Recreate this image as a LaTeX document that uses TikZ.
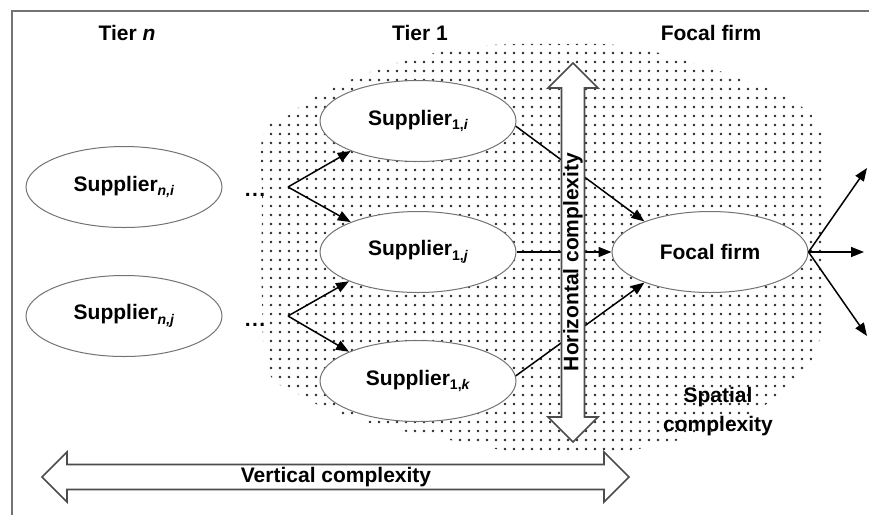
\documentclass[tikz,border=0pt]{standalone}
\usepackage{fontspec}
\setmainfont{Liberation Sans}
\usetikzlibrary{arrows.meta,shapes.geometric}
% lowered, smaller index text after a name
\newcommand{\lowsub}[1]{\raisebox{-4.5pt}{\fontsize{14}{14}\selectfont #1}}

\begin{document}
\begin{tikzpicture}[x=1pt,y=-1pt,
  lbl/.style={font=\fontsize{21}{25}\selectfont\bfseries},
  firm/.style={ellipse, draw=black!55, line width=1pt, fill=white,
    minimum width=196pt, minimum height=81pt, inner sep=0pt, lbl},
  link/.style={line width=1.5pt, -{Triangle[length=13pt,width=10pt]}},
  blockarrow/.style={draw=black!70, line width=1.6pt, fill=white,
    line join=miter},
  frameline/.style={draw=black!55, line width=1.5pt}]

\useasboundingbox (0,0) rectangle (869,515);

% outer frame (top and left edges)
\draw[frameline] (869,11) -- (12,11) -- (12,515);

% dotted area of spatial complexity
\begin{scope}
  \clip plot[smooth cycle, tension=0.7] coordinates {
    (263,135) (285,118) (315,97) (355,78) (400,62) (445,51) (490,45)
    (560,44) (625,46) (690,62) (750,82) (795,102) (822,135) (825,200)
    (824,300) (818,345) (800,375) (775,398) (730,425) (670,442)
    (600,454) (520,452) (450,440) (390,428) (335,412) (295,392)
    (268,370) (262,300) (262,200)};
  \foreach \i in {0,...,63}
    \foreach \j in {0,...,46}
      \fill[black!85] ({262+9*\i},{44+9*\j}) circle (1.35pt);
\end{scope}

% column headings
\node[lbl] (hn) at (127,33) {Tier \textit{n}};
\node[lbl] (h1) at (420,33) {Tier 1};
\node[lbl] (hf) at (711,33) {Focal firm};

% firms
\node[firm] (sni) at (124,187) {Supplier\lowsub{\textit{n,i}}};
\node[firm] (snj) at (124,316) {Supplier\lowsub{\textit{n,j}}};
\node[firm] (s1i) at (418,121) {Supplier\lowsub{1,\textit{i}}};
\node[firm] (s1j) at (418,252) {Supplier\lowsub{1,\textit{j}}};
\node[firm] (s1k) at (418,381) {Supplier\lowsub{1,\textit{k}}};
\node[firm] (focal) at (710,252) {Focal firm};

% ellipsis between the tiers
\node[lbl, inner sep=0pt] (dots1) at (255,195) {.\kern1.5pt.\kern1.5pt.};
\node[lbl, inner sep=0pt] (dots2) at (255,325) {.\kern1.5pt.\kern1.5pt.};

% branch points and free ends
\coordinate (b1) at (288,187);
\coordinate (b2) at (288,316);
\coordinate (o1) at (867,168);
\coordinate (o2) at (864,252);
\coordinate (o3) at (867,336);

% material flows
\draw[link] (b1) -- (s1i.204);
\draw[link] (b1) -- (s1j.156);
\draw[link] (b2) -- (s1j.203);
\draw[link] (b2) -- (s1k.157);
\draw[link] (s1i.-3) -- (focal.155);
\draw[link] (s1j.east) -- (focal.west);
\draw[link] (s1k.3) -- (focal.205);
\draw[link] (focal.east) -- (o1);
\draw[link] (focal.east) -- (o2);
\draw[link] (focal.east) -- (o3);

% horizontal complexity (vertical double block arrow)
\draw[blockarrow] (573,63) -- (598,88) -- (584.5,88) -- (584.5,417)
  -- (598,417) -- (573,442) -- (548,417) -- (561.5,417) -- (561.5,88)
  -- (548,88) -- cycle;
\node[lbl, rotate=90] (hc) at (573,262) {Horizontal complexity};

% vertical complexity (horizontal double block arrow)
\draw[blockarrow] (42,477) -- (67,452) -- (67,464.5) -- (604,464.5)
  -- (604,452) -- (629,477) -- (604,502) -- (604,489.5) -- (67,489.5)
  -- (67,502) -- cycle;
\node[lbl] (vc) at (336,477) {Vertical complexity};

% spatial complexity label
\node[lbl, font=\fontsize{21}{29}\selectfont\bfseries, align=center]
  (sc) at (718,412) {Spatial\\complexity};

\end{tikzpicture}
\end{document}
